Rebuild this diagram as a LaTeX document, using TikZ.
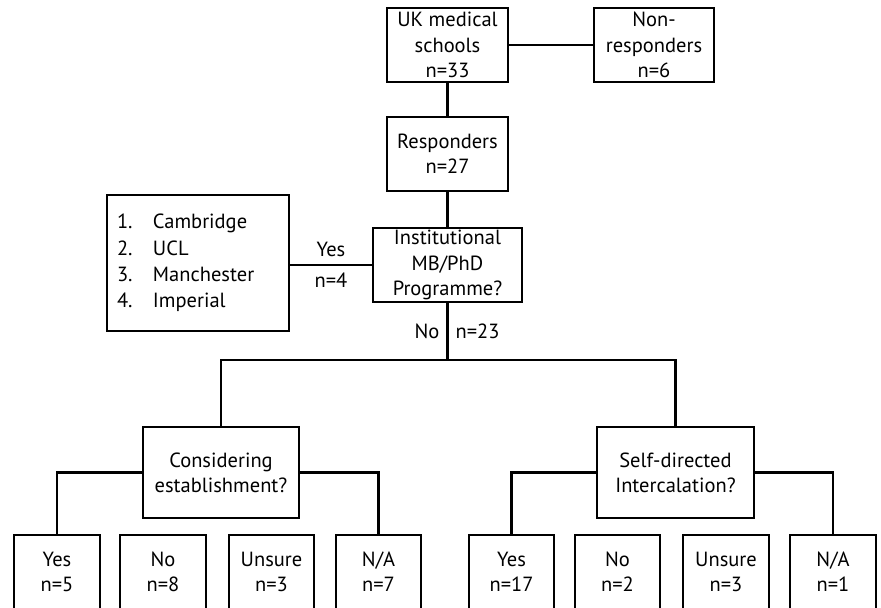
\documentclass[tikz,border=0pt]{standalone}
\usepackage{fontspec}
\setmainfont{PT Sans}
\usetikzlibrary{positioning}

\newlength\pxl
\setlength\pxl{0.03cm}

\tikzset{
  box/.style={rectangle, draw, line width=1.9pt, align=center,
    minimum width=#1, minimum height=74\pxl, inner sep=0pt},
  link/.style={line width=1.9pt},
  lbl/.style={inner sep=6pt}
}

\begin{document}
\begin{tikzpicture}[x=\pxl, y=-\pxl, font=\fontsize{17.5}{21.5}\selectfont]
    \clip (0,0) rectangle (881,607);
    % top of the chart
    \node[box=121\pxl] (ukms) at (447.5,45) {UK medical\\schools\\n=33};
    \node[box=120\pxl] (nonresp) at (654,45) {Non-\\responders\\n=6};
    \node[box=121\pxl] (resp) at (447.5,154) {Responders\\n=27};
    \node[box=149\pxl] (inst) at (447.5,265) {Institutional\\MB/PhD\\Programme?};
    \node[rectangle, draw, line width=1.9pt, minimum height=136\pxl, text width=162\pxl,
          inner xsep=10\pxl, inner ysep=0pt, align=left, font=\fontsize{17.5}{22.5}\selectfont]
          (schools) at (198,263)
          {\makebox[36\pxl][l]{1.}Cambridge\\\makebox[36\pxl][l]{2.}UCL\\
           \makebox[36\pxl][l]{3.}Manchester\\\makebox[36\pxl][l]{4.}Imperial};
    \draw[link] (ukms) -- (nonresp);
    \draw[link] (ukms) -- (resp);
    \draw[link] (resp) -- (inst);
    \draw[link] (inst.west) -- node[lbl, above]{Yes} node[lbl, below]{n=4} (inst.west -| schools.east);
    % split into the two branches
    \coordinate (bus) at (447.5,360);
    \node[box=156\pxl, minimum height=91\pxl] (consid) at (221,472.5) {Considering\\establishment?};
    \node[box=157\pxl, minimum height=91\pxl] (selfdir) at (675.5,472.5) {Self-directed\\Intercalation?};
    \draw[link] (inst.south) -- node[lbl, left]{No} node[lbl, right]{n=23} (bus);
    \draw[link] (consid.north) |- (bus) -| (selfdir.north);
    % answers, left branch
    \node[box=86\pxl] (cyes) at (57,572) {Yes\\n=5};
    \node[box=86\pxl] (cno) at (163,572) {No\\n=8};
    \node[box=85\pxl] (cunsure) at (271.5,572) {Unsure\\n=3};
    \node[box=85\pxl] (cna) at (378.5,572) {N/A\\n=7};
    \draw[link] (cyes.north) |- (consid.west);
    \draw[link] (cna.north) |- (consid.east);
    % answers, right branch
    \node[box=85\pxl] (syes) at (511.5,572) {Yes\\n=17};
    \node[box=85\pxl] (sno) at (617.5,572) {No\\n=2};
    \node[box=86\pxl] (sunsure) at (726,572) {Unsure\\n=3};
    \node[box=86\pxl] (sna) at (833,572) {N/A\\n=1};
    \draw[link] (syes.north) |- (selfdir.west);
    \draw[link] (sna.north) |- (selfdir.east);
\end{tikzpicture}
\end{document}
